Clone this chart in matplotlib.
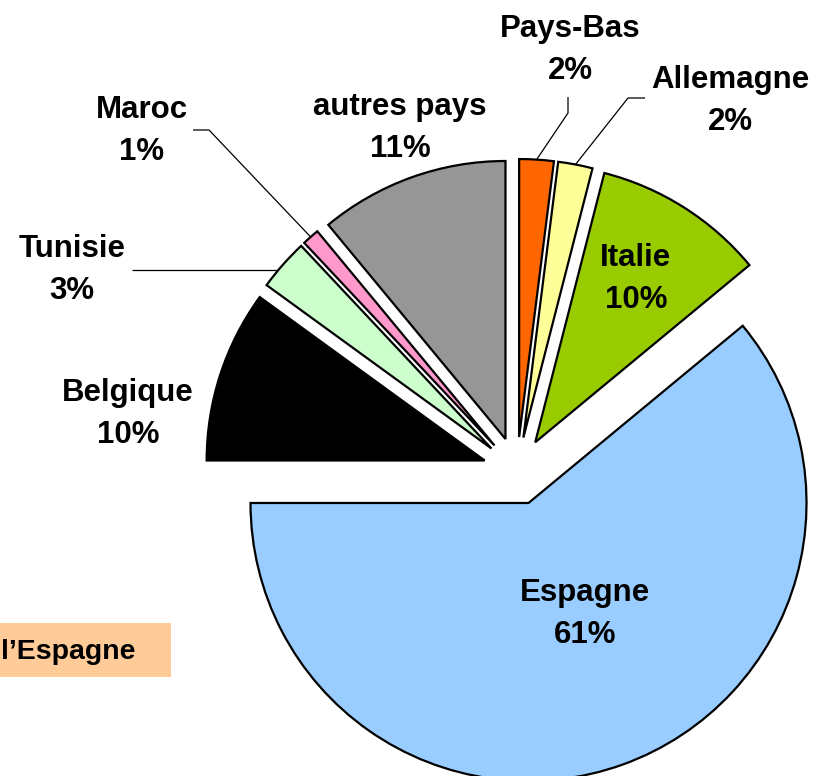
import matplotlib
matplotlib.use("Agg")
import matplotlib.pyplot as plt
from matplotlib.patches import Rectangle
import numpy as np

# ---- data ----
countries = ["Pays-Bas", "Allemagne", "Italie", "Espagne", "Belgique", "Tunisie", "Maroc", "autres pays"]
shares = [2, 2, 10, 61, 10, 3, 1, 11]
pct_labels = ["2%", "2%", "10%", "61%", "10%", "3%", "1%", "11%"]
colors = ["#FF6600", "#FFFF99", "#99CC00", "#99CCFF", "#000000", "#CCFFCC", "#FF99CC", "#969696"]
box_text = "l\u2019Espagne"

W, H = 816, 776
fig = plt.figure(figsize=(W / 100, H / 100), dpi=100)
ax = fig.add_axes([0, 0, 1, 1])

R = 278
cx, cy = 517, H - 471
wedges, _ = ax.pie(shares, colors=colors, startangle=90, counterclock=False,
                   radius=R, center=(cx, cy), explode=[34] * len(shares),
                   wedgeprops=dict(edgecolor="black", linewidth=1.6),
                   frame=True)
ax.set_xlim(0, W)
ax.set_ylim(0, H)
ax.set_aspect("equal")
ax.axis("off")

font = dict(family=["Liberation Sans", "DejaVu Sans"], fontweight="bold", fontsize=22.5)

# label centres (image px) for each slice
label_pos = {
    "Pays-Bas": (570, 50),
    "Allemagne": (730, 101),
    "Italie": (636, 279),
    "Espagne": (585, 614),
    "Belgique": (128, 414),
    "Tunisie": (72, 270),
    "Maroc": (142, 131),
    "autres pays": (400, 128),
}
for name, pct in zip(countries, pct_labels):
    x, y = label_pos[name]
    ax.text(x, H - y, f"{name}\n{pct}", ha="center", va="center",
            multialignment="center", linespacing=1.55, color="black", **font)

def arc_point(w):
    a = np.deg2rad((w.theta1 + w.theta2) / 2)
    return w.center[0] + w.r * np.cos(a), w.center[1] + w.r * np.sin(a)

def arc_point_at_y(w, y):
    # left-side intersection of a horizontal line with the wedge's arc
    dx = np.sqrt(w.r ** 2 - (y - w.center[1]) ** 2)
    return w.center[0] - dx, y

# leader lines: elbow points in image px, ending on the slice arc
leaders = {
    "Pays-Bas": [(568, 97), (568, 113)],
    "Allemagne": [(645, 98), (628, 98)],
    "Maroc": [(193, 130), (209, 130)],
}
for name, pts in leaders.items():
    w = wedges[countries.index(name)]
    ex, ey = arc_point(w)
    xs = [p[0] for p in pts] + [ex]
    ys = [H - p[1] for p in pts] + [ey]
    ax.plot(xs, ys, color="black", linewidth=0.9, solid_capstyle="butt")

# Tunisie: straight horizontal leader
wt = wedges[countries.index("Tunisie")]
ex, ey = arc_point_at_y(wt, H - 270)
ax.plot([132, ex], [H - 270, ey], color="black", linewidth=0.9, solid_capstyle="butt")

# text box on the left
ax.add_patch(Rectangle((0, H - 677), 171, 54, facecolor="#FFCC99", edgecolor="none", zorder=0))
ax.text(1, H - 652, box_text, ha="left", va="center", **dict(font, fontsize=20.5))

fig.savefig("out.png", dpi=100)
